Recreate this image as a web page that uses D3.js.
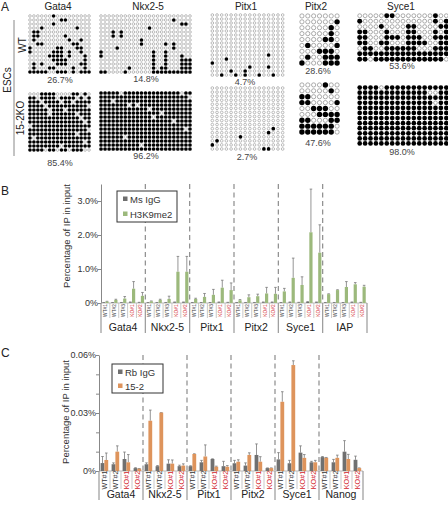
<!DOCTYPE html>
<html><head><meta charset="utf-8">
<script src="https://cdn.jsdelivr.net/npm/d3@7"></script>
<style>
html,body{margin:0;padding:0;background:#fff;}
svg{display:block;font-family:"Liberation Sans",Arial,Helvetica,sans-serif;}
</style></head><body>
<svg id="chart" width="448" height="510"></svg>
<script>
// ---------- Panel A data (1 = methylated CpG, 0 = unmethylated) ----------
const methGenes = ["Gata4", "Nkx2-5", "Pitx1", "Pitx2", "Syce1"];
const methPctWT = ["26.7%", "14.8%", "4.7%", "28.6%", "53.6%"];
const methPctKO = ["85.4%", "96.2%", "2.7%", "47.6%", "98.0%"];
const rowLabels = ["WT", "15-2KO"];

const gata4WT = [
 "0000001000000000","0000000011000000","0000001000000000","0001000000001000",
 "0110000000000000","0110000001000000","0100000000100100","0011000000011000",
 "1000000110001100","1000001110100100","0000011110100010","0000001111000010",
 "0101000111000110","0100011000010010","1111100111010111"];
const gata4KO = [
 "0001111000011010","1101111011110101","1110111101101111","1111011111111110",
 "1111101110111111","1111101111110111","1111111111111011","1111111111111101",
 "0111111111111111","1111111111111110","1111111111110111","1011111111111111",
 "1111111111111101","1111111101111111","1111011011011100"];
const nkx25WT = [
 "00000000000000000000000","00000000000000000010000","00000000000000000000110",
 "00000000000010000000000","00010100000000000000000","00010100000000000000000",
 "00000000001000000000000","00000000001000001010000","00001000000000000010000",
 "10000000000001001000000","10000000000001001000100","00000000000001001000111",
 "00000000000001001000111","00000001000001011000111","11000010000001111111111"];
const nkx25KO = [
 "11111011111111111111011","11111111111111111111110","11101111111111111111111",
 "11111110101111111111111","11111111111101111111111","11111111111111101111111",
 "11111111111110111111111","11111111111111111101111","11111111111111111111111",
 "11111111111111111111101","11111111111111111111111","11111101111111111111111",
 "11111111111111111111111","11111111110111111111111","11111111111111111111111"];
const pitx1WT = [
 "0000000000000000","0000000000000000","0000000000000000","0000000000000000",
 "0000000000000000","0000000000000000","0000000000000000","0000000000000000",
 "0000000000000000","0000000000000000","0000000000001000","0001000000000000",
 "1000000000000000","0000000010001000","0000100100000000","0010010100100100"];
const pitx1KO = [
 "0000000000000000","0000000000000000","0000000000000000","0000000000000000",
 "0000000000000000","0000000000000000","0000000000000000","0000000000000000",
 "0000000000000000","0000000000000000","0000000000000100","0000000000001000",
 "0000001000000000","0100000000000000","1000000000000000","0000000000011000"];
const pitx2WT = ["0000000","0000001","0000010","0000010","0000110","0100001","0001110","0100111","1000111"];
const pitx2KO = ["0000100","0000010","1100000","1100001","0011100","0001111","1100011","1111110","1111110"];
const syce1WT = [
 "00000110000000100","10000000000000101","00001000011000011",
 "11000100011000101","11000111011100111","11001100011110011",
 "01100111111000111","11111111111111111","11011111111111110"];
const syce1KO = [
 "11110111111111111","11111111111110011","11111111111111111",
 "11111111111111011","11111111111111111","11111111111111111",
 "11111111111111111","11111111111111111","11111111111111111",
 "11111111111111111","11111111111111111","11111111111111111"];

// ---------- Panel B data (% of IP in input) ----------
const chipBGroups = ["Gata4", "Nkx2-5", "Pitx1", "Pitx2", "Syce1", "IAP"];
const chipBSamples = ["WT#1", "WT#2", "WT#3", "KO#1", "KO#2"];
const msIgG    = [0.01,0.01,0.01,0.02,0.01, 0.01,0.01,0.01,0.02,0.02, 0.01,0.01,0.01,0.02,0.01, 0.01,0.01,0.01,0.02,0.02, 0.01,0.02,0.01,0.03,0.02, 0.01,0.01,0.01,0.02,0.01];
const msIgGErr = [0.015,0.015,0.015,0.03,0.02, 0.015,0.015,0.015,0.03,0.03, 0.015,0.015,0.015,0.03,0.02, 0.015,0.015,0.015,0.03,0.03, 0.015,0.03,0.02,0.04,0.03, 0.015,0.015,0.015,0.03,0.02];
const h3k9me2    = [0.04,0.09,0.13,0.42,0.21, 0.05,0.09,0.12,0.92,0.92, 0.12,0.18,0.24,0.45,0.38, 0.08,0.17,0.20,0.28,0.27, 0.34,0.74,0.53,2.08,1.48, 0.26,0.38,0.47,0.55,0.48];
const h3k9me2Err = [0.05,0.11,0.19,0.63,0.31, 0.06,0.11,0.20,1.37,1.37, 0.14,0.28,0.40,0.67,0.59, 0.10,0.24,0.26,0.46,0.46, 0.43,1.32,0.77,3.35,2.30, 0.27,0.39,0.63,0.60,0.52];
const chipBTicks = [0, 1, 2, 3];
const chipBTickLabels = ["0%", "1.0%", "2.0%", "3.0%"];

// ---------- Panel C data (% of IP in input) ----------
const chipCGroups = ["Gata4", "Nkx2-5", "Pitx1", "Pitx2", "Syce1", "Nanog"];
const chipCSamples = ["WT#1", "WT#2", "KO#1", "KO#2"];
const rbIgG    = [0.0041,0.0035,0.0062,0.0015, 0.0035,0.0025,0.0038,0.0025, 0.0025,0.0045,0.0062,0.0025, 0.0040,0.0028,0.0083,0.0015, 0.0060,0.0040,0.0095,0.0045, 0.0072,0.0045,0.0100,0.0058];
const rbIgGErr = [0.0075,0.0042,0.0098,0.0017, 0.0042,0.0028,0.0058,0.0030, 0.0027,0.0055,0.0063,0.0050, 0.0055,0.0042,0.0140,0.0016, 0.0095,0.0055,0.0130,0.0050, 0.0075,0.0060,0.0157,0.0077];
const ab152    = [0.0057,0.0100,0.0045,0.0012, 0.0260,0.0302,0.0038,0.0028, 0.0088,0.0075,0.0022,0.0022, 0.0048,0.0083,0.0048,0.0015, 0.0358,0.0548,0.0068,0.0045, 0.0068,0.0068,0.0062,0.0015];
const ab152Err = [0.0093,0.0130,0.0085,0.0013, 0.0315,0.0302,0.0057,0.0037, 0.0089,0.0135,0.0025,0.0028, 0.0058,0.0094,0.0074,0.0016, 0.0410,0.0570,0.0085,0.0055, 0.0070,0.0082,0.0086,0.0016];
const chipCTicks = [0, 0.01, 0.02, 0.03, 0.04, 0.05, 0.06];
const chipCTickLabels = ["0%", "", "", "0.03%", "", "", "0.06%"];

// ---------- Drawing ----------
const svg = d3.select("#chart");
const FONT_DARK = "#222";

// Panel A
const gridsWT = [gata4WT, nkx25WT, pitx1WT, pitx2WT, syce1WT];
const gridsKO = [gata4KO, nkx25KO, pitx1KO, pitx2KO, syce1KO];
const boxesWT = [{x:28,y:14,w:63,h:60},{x:99,y:14,w:93,h:60},{x:210,y:13,w:75,h:64},{x:299,y:13,w:41,h:53},{x:357,y:13,w:92,h:49}];
const boxesKO = [{x:28,y:92,w:63,h:60},{x:99,y:91,w:93,h:60},{x:210,y:86,w:75,h:65},{x:299,y:82,w:41,h:53},{x:357,y:85,w:92,h:61}];
const titlePos = [[58,10],[148,10],[246,10],[316,10],[401,10]];
const pctPosWT = [[60,83],[146,82],[245,85],[318,74],[402,69]];
const pctPosKO = [[60,166],[146,159],[247,160],[318,146],[402,155]];

const gA = svg.append("g");
gA.append("text").attr("x",1).attr("y",11).attr("font-size",12).attr("fill",FONT_DARK).text("A");

function drawGrid(rows, box) {
  const nr = rows.length, nc = rows[0].length;
  const x = d3.scaleBand().domain(d3.range(nc)).range([box.x, box.x + box.w]);
  const y = d3.scaleBand().domain(d3.range(nr)).range([box.y, box.y + box.h]);
  const cells = [];
  rows.forEach((s, r) => { for (let c = 0; c < nc; c++) cells.push({r, c, m: s[c] === "1"}); });
  const step = Math.min(x.bandwidth(), y.bandwidth());
  const big = step > 5;
  gA.append("g").selectAll("circle").data(cells).enter().append("circle")
    .attr("cx", d => x(d.c) + x.bandwidth() / 2)
    .attr("cy", d => y(d.r) + y.bandwidth() / 2)
    .attr("r", d => d.m ? step * 0.46 : step * (big ? 0.36 : 0.33))
    .attr("fill", d => d.m ? "#000" : "#fff")
    .attr("stroke", d => d.m ? "none" : (big ? "#8a8a8a" : "#a5a5a5"))
    .attr("stroke-width", big ? 0.7 : 0.75);
}
methGenes.forEach((gname, i) => {
  gA.append("text").attr("x", titlePos[i][0]).attr("y", titlePos[i][1]).attr("text-anchor","middle")
    .attr("font-size",10).attr("fill",FONT_DARK).text(gname);
  drawGrid(gridsWT[i], boxesWT[i]);
  drawGrid(gridsKO[i], boxesKO[i]);
  gA.append("text").attr("x", pctPosWT[i][0]).attr("y", pctPosWT[i][1]).attr("text-anchor","middle")
    .attr("font-size",9).attr("fill","#444").text(methPctWT[i]);
  gA.append("text").attr("x", pctPosKO[i][0]).attr("y", pctPosKO[i][1]).attr("text-anchor","middle")
    .attr("font-size",9).attr("fill","#444").text(methPctKO[i]);
});
gA.append("line").attr("x1",14).attr("x2",14).attr("y1",20).attr("y2",156).attr("stroke","#888").attr("stroke-width",1);
gA.append("text").attr("transform","translate(11,80) rotate(-90)").attr("text-anchor","middle")
  .attr("font-size",10).attr("fill",FONT_DARK).text("ESCs");
gA.append("text").attr("transform","translate(26,45) rotate(-90)").attr("text-anchor","middle")
  .attr("font-size",10).attr("fill",FONT_DARK).text(rowLabels[0]);
gA.append("text").attr("transform","translate(24,118) rotate(-90)").attr("text-anchor","middle")
  .attr("font-size",10).attr("fill",FONT_DARK).text(rowLabels[1]);

// Generic ChIP panel
function chipPanel(cfg) {
  const g = svg.append("g");
  const nS = cfg.samples.length, n = cfg.groups.length * nS;
  const x = d3.scaleBand().domain(d3.range(n)).range([cfg.x0, cfg.x1]);
  const y = d3.scaleLinear().domain(cfg.yDomain).range([cfg.yBottom, cfg.yTop]);
  const bw = x.bandwidth();

  g.append("text").attr("x",1).attr("y",cfg.letterY).attr("font-size",12).attr("fill",FONT_DARK).text(cfg.letter);

  // dashed group separators
  g.selectAll(".dash").data(d3.range(1, cfg.groups.length)).enter().append("line")
    .attr("x1", d => x(d * nS)).attr("x2", d => x(d * nS))
    .attr("y1", cfg.yTop).attr("y2", cfg.yBottom)
    .attr("stroke","#8c8c8c").attr("stroke-width",1.2).attr("stroke-dasharray","5,3.5");

  // y axis
  const ax = g.append("g").attr("transform", `translate(${cfg.x0},0)`)
    .call(d3.axisLeft(y).tickValues(cfg.ticks).tickFormat((d,i) => cfg.tickLabels[i]).tickSize(3).tickSizeOuter(0));
  ax.select(".domain").attr("stroke","#888");
  ax.selectAll(".tick line").attr("stroke","#888");
  ax.selectAll(".tick text").attr("font-size",9).attr("fill","#333").attr("font-family",'"Liberation Sans",Arial,sans-serif').attr("x",-3);
  g.append("text").attr("transform",`translate(${cfg.ylabelX},${cfg.ylabelY}) rotate(-90)`)
    .attr("text-anchor","middle").attr("font-size",9.5).attr("fill","#333").text("Percentage of IP in input");

  // baseline
  g.append("line").attr("x1",cfg.x0).attr("x2",cfg.x1).attr("y1",cfg.yBottom).attr("y2",cfg.yBottom)
    .attr("stroke","#aaa").attr("stroke-width",0.8);

  // bars
  cfg.series.forEach(s => {
    const data = s.values.map((v, i) => ({i, v, e: s.err[i]}));
    g.append("g").selectAll("line").data(data).enter().append("line")
      .attr("x1", d => x(d.i) + s.off + s.w / 2).attr("x2", d => x(d.i) + s.off + s.w / 2)
      .attr("y1", d => y(d.v)).attr("y2", d => y(d.e))
      .attr("stroke","#7a7a7a").attr("stroke-width",0.8);
    g.append("g").selectAll("line").data(data).enter().append("line")
      .attr("x1", d => x(d.i) + s.off + s.w / 2 - 1.3).attr("x2", d => x(d.i) + s.off + s.w / 2 + 1.3)
      .attr("y1", d => y(d.e)).attr("y2", d => y(d.e))
      .attr("stroke","#7a7a7a").attr("stroke-width",0.8);
    g.append("g").selectAll("rect").data(data).enter().append("rect")
      .attr("x", d => x(d.i) + s.off).attr("width", s.w)
      .attr("y", d => y(d.v)).attr("height", d => cfg.yBottom - y(d.v))
      .attr("fill", s.color);
  });

  // sample cells
  g.selectAll(".cell").data(d3.range(n + 1)).enter().append("line")
    .attr("x1", d => d < n ? x(d) : cfg.x1).attr("x2", d => d < n ? x(d) : cfg.x1)
    .attr("y1", cfg.yBottom).attr("y2", d => d % nS === 0 ? cfg.groupLineBottom : cfg.cellBottom)
    .attr("stroke", d => d % nS === 0 ? "#999" : "#bbb")
    .attr("stroke-width", d => d % nS === 0 ? 1.2 : 0.8);
  const labels = d3.range(n).map(i => cfg.samples[i % nS]);
  g.selectAll(".slab").data(labels).enter().append("text")
    .attr("transform", (d, i) => `translate(${x(i) + bw / 2},${(cfg.yBottom + cfg.cellBottom) / 2}) rotate(-90)`)
    .attr("text-anchor","middle").attr("dominant-baseline","central")
    .attr("font-size", cfg.sampleFont)
    .attr("fill", d => d.startsWith("KO") ? "#d2232a" : "#333")
    .text(d => d);
  g.selectAll(".glab").data(cfg.groups).enter().append("text")
    .attr("x", (d, i) => x(i * nS) + bw * nS / 2).attr("y", cfg.groupLabelY)
    .attr("text-anchor","middle").attr("font-size",10.5).attr("fill",FONT_DARK).text(d => d);

  // legend
  const L = cfg.legend;
  g.append("rect").attr("x",L.x).attr("y",L.y).attr("width",L.w).attr("height",L.h)
    .attr("fill","#fff").attr("stroke","#333").attr("stroke-width",1);
  cfg.series.forEach((s, k) => {
    const yy = L.y + L.pad + k * L.gap;
    g.append("rect").attr("x", L.x + 6).attr("y", yy - 3.5).attr("width",4.5).attr("height",4.5).attr("fill", s.color);
    g.append("text").attr("x", L.x + 13).attr("y", yy + 3).attr("font-size",9.5).attr("fill","#333").text(s.name);
  });
}

chipPanel({
  letter:"B", letterY:195,
  groups: chipBGroups, samples: chipBSamples,
  x0:101, x1:367, yBottom:303, yTop:184, yDomain:[0,3.5],
  ticks: chipBTicks, tickLabels: chipBTickLabels,
  ylabelX:70, ylabelY:236,
  cellBottom:318, groupLineBottom:333, groupLabelY:331, sampleFont:4.8,
  series: [
    {name:"Ms IgG", values: msIgG, err: msIgGErr, color:"#6e6e6e", off:1.3, w:2.8},
    {name:"H3K9me2", values: h3k9me2, err: h3k9me2Err, color:"#9cb97c", off:4.4, w:3.2}
  ],
  legend:{x:117, y:191, w:60, h:31, pad:9, gap:15}
});

chipPanel({
  letter:"C", letterY:357,
  groups: chipCGroups, samples: chipCSamples,
  x0:99, x1:363, yBottom:471, yTop:355, yDomain:[0,0.06],
  ticks: chipCTicks, tickLabels: chipCTickLabels,
  ylabelX:69, ylabelY:412,
  cellBottom:489, groupLineBottom:500, groupLabelY:498, sampleFont:7.2,
  series: [
    {name:"Rb IgG", values: rbIgG, err: rbIgGErr, color:"#707070", off:1.6, w:3.8},
    {name:"15-2", values: ab152, err: ab152Err, color:"#de945c", off:5.4, w:3.8}
  ],
  legend:{x:112, y:364, w:51, h:29, pad:9, gap:14}
});
</script>
</body></html>
